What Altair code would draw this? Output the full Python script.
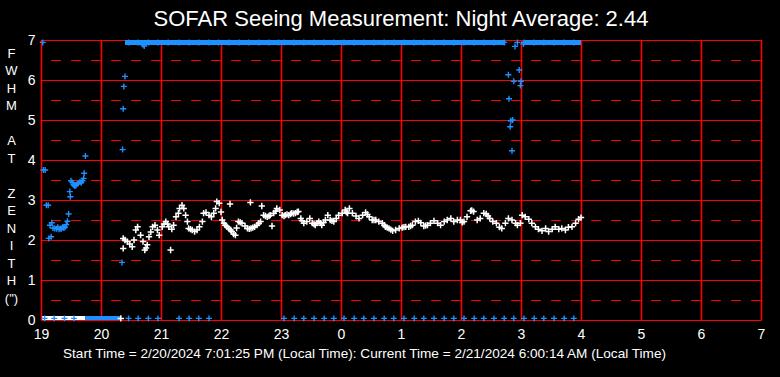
import altair as alt
import pandas as pd

# ---------------- data ----------------
# hours are continuous: 24 = midnight, 25 = 1 AM ...
white_x = [20.37, 20.37, 20.40, 20.44, 20.48, 20.52, 20.55, 20.58, 20.61, 20.66, 20.70, 20.73,
           20.75, 20.77, 20.80, 20.83, 20.86, 20.90, 20.94, 20.97, 21.02, 21.05, 21.08, 21.11,
           21.13, 21.16, 21.18, 21.21, 21.25, 21.29, 21.31, 21.35, 21.38, 21.41, 21.44, 21.46,
           21.49, 21.52, 21.56, 21.60, 21.64, 21.69, 21.71, 21.75, 21.80, 21.84, 21.88, 21.91,
           21.93, 21.97, 22.00, 22.02, 22.05, 22.07, 22.10, 22.13, 22.15, 22.16, 22.18, 22.21,
           22.24, 22.26, 22.29, 22.32, 22.35, 22.40, 22.44, 22.47, 22.49, 22.50, 22.53, 22.56,
           22.60, 22.63, 22.66, 22.68, 22.71, 22.74, 22.77, 22.80, 22.82, 22.85, 22.88, 22.91,
           22.93, 22.98, 23.02, 23.05, 23.07, 23.10, 23.13, 23.16, 23.18, 23.21, 23.24, 23.27,
           23.29, 23.33, 23.35, 23.38, 23.43, 23.48, 23.52, 23.55, 23.57, 23.60, 23.63, 23.66,
           23.68, 23.71, 23.74, 23.78, 23.82, 23.85, 23.88, 23.92, 23.96, 24.02, 24.07, 24.09,
           24.11, 24.14, 24.19, 24.25, 24.30, 24.36, 24.41, 24.44, 24.47, 24.52, 24.55, 24.58,
           24.63, 24.69, 24.72, 24.74, 24.77, 24.80, 24.83, 24.86, 24.91, 24.97, 25.02, 25.05,
           25.08, 25.13, 25.16, 25.19, 25.24, 25.29, 25.33, 25.38, 25.41, 25.44, 25.49, 25.55,
           25.61, 25.66, 25.72, 25.77, 25.83, 25.88, 25.94, 25.99, 26.02, 26.05, 26.10, 26.16,
           26.18, 26.21, 26.27, 26.32, 26.38, 26.42, 26.45, 26.48, 26.53, 26.59, 26.64, 26.68,
           26.74, 26.79, 26.85, 26.91, 26.94, 26.99, 27.02, 27.07, 27.13, 27.18, 27.24, 27.29,
           27.35, 27.41, 27.46, 27.52, 27.57, 27.63, 27.68, 27.74, 27.79, 27.85, 27.91, 27.96,
           28.00, 20.33]
white_y = [2.04, 1.79, 2.00, 1.96, 1.90, 1.83, 2.00, 2.25, 2.33, 2.12, 1.96, 1.75,
           1.80, 1.88, 2.08, 2.20, 2.33, 2.37, 2.25, 2.12, 2.33, 2.40, 2.46, 2.40,
           2.33, 1.75, 2.27, 2.37, 2.58, 2.67, 2.79, 2.87, 2.79, 2.62, 2.46, 2.29,
           2.27, 2.25, 2.21, 2.25, 2.33, 2.46, 2.67, 2.69, 2.62, 2.58, 2.67, 2.79,
           2.96, 2.92, 2.70, 2.50, 2.42, 2.37, 2.33, 2.29, 2.90, 2.25, 2.21, 2.15,
           2.12, 2.30, 2.46, 2.44, 2.42, 2.35, 2.29, 2.28, 2.94, 2.29, 2.31, 2.33,
           2.37, 2.42, 2.46, 2.85, 2.62, 2.60, 2.58, 2.60, 2.62, 2.35, 2.67, 2.72,
           2.79, 2.75, 2.62, 2.60, 2.62, 2.64, 2.62, 2.65, 2.67, 2.66, 2.67, 2.70,
           2.71, 2.54, 2.48, 2.42, 2.46, 2.54, 2.42, 2.40, 2.37, 2.42, 2.46, 2.42,
           2.37, 2.44, 2.50, 2.62, 2.50, 2.48, 2.46, 2.54, 2.62, 2.67, 2.75, 2.70,
           2.67, 2.79, 2.67, 2.60, 2.54, 2.62, 2.69, 2.64, 2.58, 2.50, 2.50, 2.50,
           2.46, 2.42, 2.37, 2.33, 2.31, 2.29, 2.26, 2.23, 2.25, 2.29, 2.31, 2.32,
           2.33, 2.33, 2.35, 2.37, 2.46, 2.48, 2.43, 2.35, 2.36, 2.37, 2.42, 2.48,
           2.42, 2.37, 2.46, 2.50, 2.54, 2.46, 2.50, 2.50, 2.44, 2.46, 2.58, 2.73,
           2.74, 2.71, 2.50, 2.54, 2.67, 2.65, 2.60, 2.54, 2.46, 2.42, 2.32, 2.29,
           2.42, 2.54, 2.50, 2.42, 2.37, 2.42, 2.62, 2.58, 2.52, 2.42, 2.33, 2.27,
           2.23, 2.29, 2.21, 2.27, 2.33, 2.27, 2.29, 2.25, 2.32, 2.33, 2.42, 2.52,
           2.56, 0.04]

blue_x = [19.03, 19.04, 19.07, 19.09, 19.12, 19.13, 19.15, 19.17, 19.18, 19.20, 19.23, 19.26,
          19.28, 19.30, 19.32, 19.34, 19.36, 19.38, 19.40, 19.42, 19.44, 19.46, 19.48, 19.49,
          19.50, 19.52, 19.54, 19.56, 19.58, 19.59, 19.62, 19.65, 19.67, 19.69, 19.71, 19.72,
          19.74, 20.35, 20.36, 20.37, 20.38, 20.40, 20.70, 20.72,
          26.79, 26.80, 26.82, 26.83, 26.85, 26.86, 26.88, 26.90, 26.94, 26.97, 26.99, 27.00, 27.04]
blue_y = [6.94, 3.75, 3.75, 2.87, 2.87, 2.04, 2.37, 2.08, 2.43, 2.30, 2.29, 2.28,
          2.32, 2.27, 2.29, 2.28, 2.32, 2.30, 2.32, 2.38, 2.47, 2.65, 3.21, 3.08,
          3.48, 3.44, 3.38, 3.35, 3.36, 3.39, 3.42, 3.45, 3.43, 3.48, 3.54, 3.67,
          4.10, 1.44, 4.26, 5.28, 5.84, 6.09, 6.88, 6.85,
          6.13, 5.53, 4.83, 4.98, 4.23, 5.00, 5.97, 6.84, 6.94, 6.25, 5.86, 5.97, 6.90]

# readings clipped to the top (7) and bottom (0) of the scale
clip_top_x = [20.46, 20.62, 20.79, 20.95, 21.12, 21.30, 21.47, 21.63, 21.80, 21.96, 22.13, 22.30,
              22.46, 22.63, 22.80, 22.96, 23.05, 23.22, 23.38, 23.55, 23.72, 23.88, 24.05, 24.22,
              24.38, 24.55, 24.72, 24.88, 25.05, 25.22, 25.38, 25.55, 25.72, 25.88, 26.05, 26.22,
              26.38, 26.55, 26.72, 27.05, 27.22, 27.38, 27.55, 27.72, 27.88]
clip_bottom_x = [19.06, 19.22, 19.39, 19.55, 20.46, 20.62, 20.79, 20.95, 21.30, 21.47, 21.63, 21.80,
                 23.05, 23.22, 23.38, 23.55, 23.72, 23.88, 24.05, 24.22, 24.38, 24.55, 24.72, 24.88,
                 25.05, 25.22, 25.38, 25.55, 25.72, 25.88, 26.05, 26.22, 26.38, 26.55, 26.72, 26.88,
                 27.05, 27.22, 27.38, 27.55, 27.72, 27.88]
clip_top_value = 6.94
clip_bottom_value = 0.04

# continuous runs of clipped readings
run_start = [20.40, 27.05, 19.02, 19.74]
run_end = [26.74, 28.00, 19.74, 20.32]
run_low = [6.875, 6.875, 0.0, 0.0]
run_high = [7.0, 7.0, 0.1, 0.1]
run_series = ["blue", "blue", "white", "blue"]

half_levels = [0.5, 1.5, 2.5, 3.5, 4.5, 5.5, 6.5]
x_ticks = list(range(19, 32))
y_ticks = list(range(0, 8))

title_text = "SOFAR Seeing Measurement: Night Average: 2.44"
footer_text = "Start Time = 2/20/2024 7:01:25 PM (Local Time): Current Time = 2/21/2024 6:00:14 AM (Local Time)"
BLANK = "\u2800"
y_title_lines = ["F", "W", "H", "M", BLANK, "A", "T", BLANK, "Z", "E", "N", "I", "T", "H", '(")']

# ---------------- build tables ----------------
white_df = pd.DataFrame({"h": white_x, "v": white_y})
blue_df = pd.DataFrame({
    "h": blue_x + clip_top_x + clip_bottom_x,
    "v": blue_y + [clip_top_value] * len(clip_top_x) + [clip_bottom_value] * len(clip_bottom_x),
})
runs_df = pd.DataFrame({"h": run_start, "h2": run_end, "v": run_low, "v2": run_high, "s": run_series})
half_df = pd.DataFrame({"v": half_levels})
xgrid_df = pd.DataFrame({"h": x_ticks})

RED = "#FF0000"
BLUE = "#1E90FF"
FONT = "Liberation Sans"
CROSS = "M-1,0L1,0M0,-1L0,1"

x_scale = alt.Scale(domain=[19, 31], nice=False, zero=False)
y_scale = alt.Scale(domain=[0, 7], nice=False)

x_axis = alt.Axis(
    values=x_ticks,
    labelExpr="datum.value >= 24 ? datum.value - 24 : datum.value",
    grid=False,
    domainColor=RED, domainWidth=1, ticks=False,
    labelColor="white", labelFont=FONT, labelFontSize=14, labelPadding=7,
    labelFlush=False, labelOverlap=False,
    title=footer_text, titleColor="white", titleFont=FONT, titleFontSize=13.6,
    titleFontWeight="normal", titleX=323, titleAlign="center", titlePadding=5,
)
y_axis = alt.Axis(
    values=y_ticks,
    grid=True, gridColor=RED, gridOpacity=1, gridWidth=1,
    domainColor=RED, domainWidth=1, ticks=False,
    labelColor="white", labelFont=FONT, labelFontSize=14, labelPadding=6,
    title=y_title_lines, titleAngle=0, titleColor="white", titleFont=FONT,
    titleFontSize=13, titleFontWeight="normal", titleLineHeight=17.5,
    titleX=-30, titleY=7, titleAlign="center", titleBaseline="top",
)

x_enc = alt.X("h:Q", scale=x_scale, axis=x_axis)
y_enc = alt.Y("v:Q", scale=y_scale, axis=y_axis)

xgrid = alt.Chart(xgrid_df).mark_rule(color=RED, strokeWidth=1.6, xOffset=0.5).encode(x=x_enc)

dashes = alt.Chart(half_df).mark_rule(color=RED, strokeDash=[10, 10], strokeWidth=1, yOffset=0.5).encode(
    y=y_enc
)

runs = alt.Chart(runs_df).mark_rect().encode(
    x=x_enc, x2="h2:Q", y=y_enc, y2="v2:Q",
    color=alt.Color("s:N", scale=alt.Scale(domain=["blue", "white"], range=[BLUE, "#FFFFFF"]), legend=None),
)

white_pts = alt.Chart(white_df).mark_point(
    shape=CROSS, filled=False, color="#FFFFFF", size=40, strokeWidth=1.5, opacity=1
).encode(x=x_enc, y=y_enc)

blue_pts = alt.Chart(blue_df).mark_point(
    shape=CROSS, filled=False, color=BLUE, size=36, strokeWidth=1.4, opacity=1
).encode(x=x_enc, y=y_enc)

chart = alt.layer(xgrid, dashes, runs, white_pts, blue_pts).properties(
    width=720, height=280,
    padding={"left": 41, "top": 40, "right": 19, "bottom": 57},
    autosize=alt.AutoSizeParams(type="none"),
    background="black",
    title=alt.TitleParams(title_text, color="white", font=FONT, fontSize=22,
                          fontWeight="normal", anchor="middle", offset=2),
).configure_view(stroke=None)

chart.save("out.html", embed_options={"renderer": "svg", "actions": False})
